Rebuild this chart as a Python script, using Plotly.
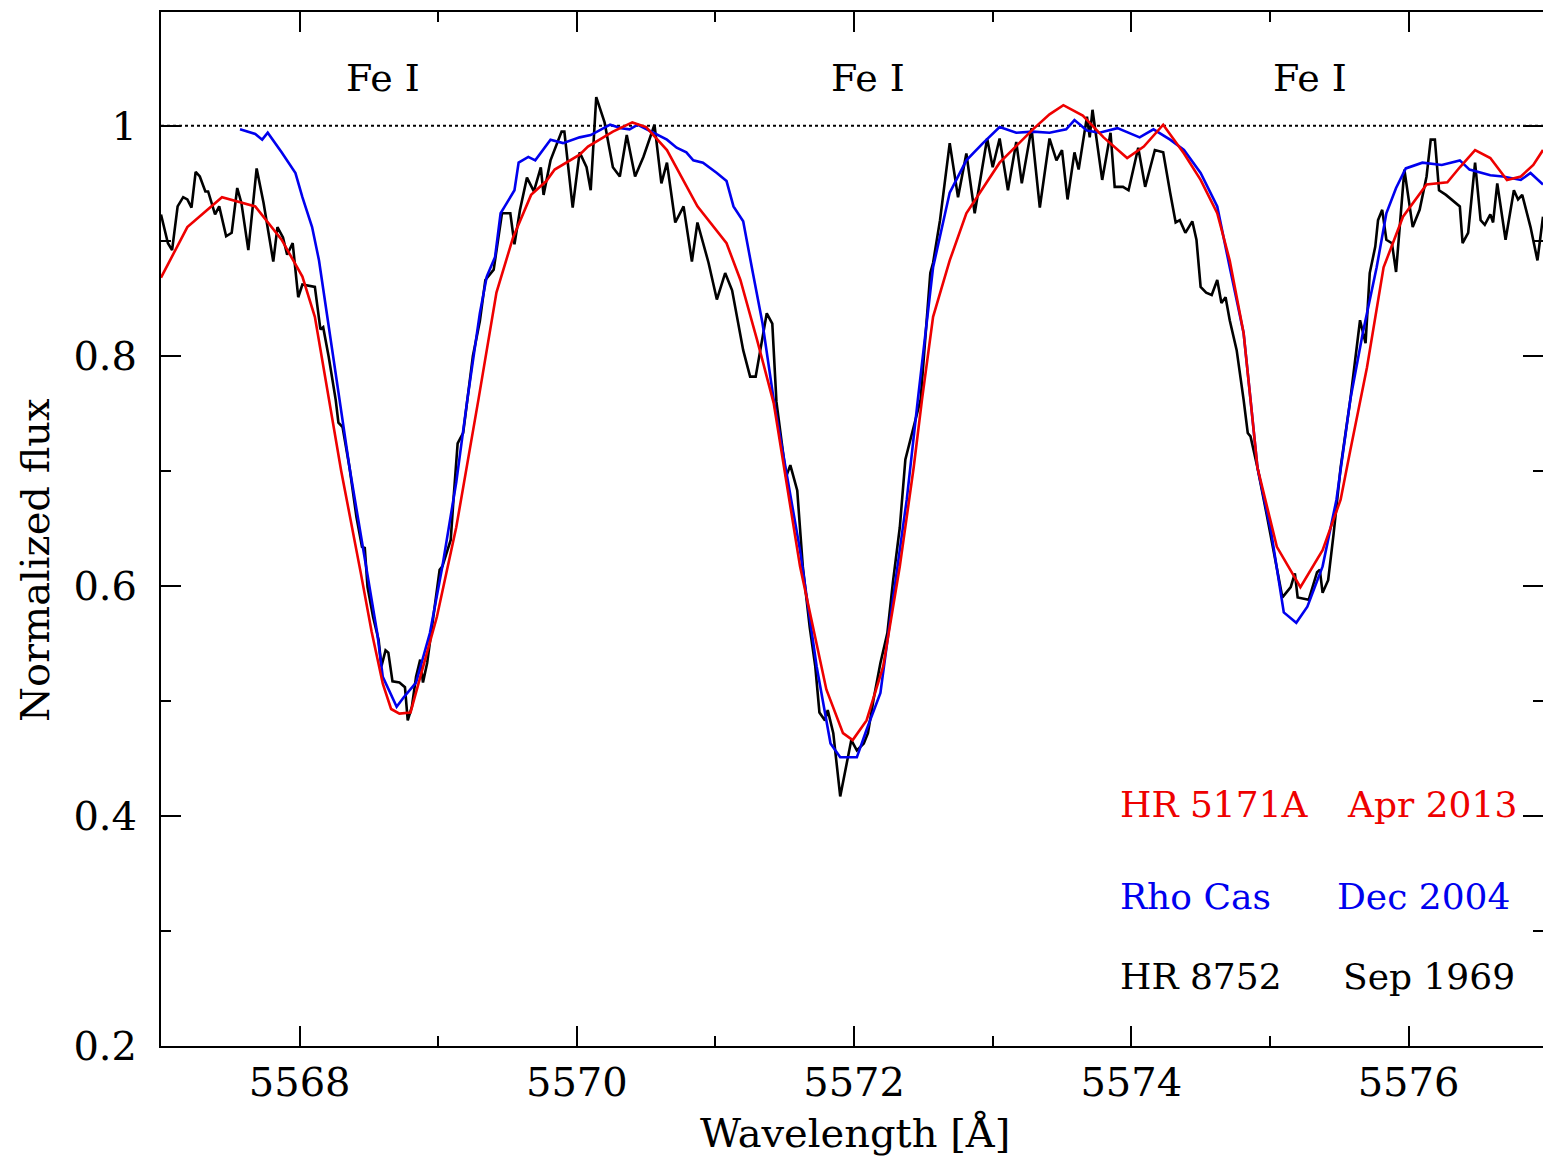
import plotly.graph_objects as go

# ---------------- data ----------------
red_wl = [5567.00, 5567.19, 5567.44, 5567.68, 5567.87, 5568.02, 5568.11, 5568.20, 5568.30, 5568.44,
          5568.52, 5568.60, 5568.66, 5568.72, 5568.80, 5568.99, 5569.13, 5569.29, 5569.42, 5569.54,
          5569.67, 5569.78, 5569.84, 5570.02, 5570.08, 5570.26, 5570.40, 5570.50, 5570.65, 5570.74,
          5570.87, 5571.08, 5571.18, 5571.30, 5571.42, 5571.61, 5571.80, 5571.92, 5571.99, 5572.09,
          5572.21, 5572.33, 5572.43, 5572.49, 5572.57, 5572.69, 5572.81, 5573.05, 5573.29, 5573.41,
          5573.51, 5573.65, 5573.80, 5573.97, 5574.09, 5574.23, 5574.38, 5574.50, 5574.62, 5574.71,
          5574.81, 5574.86, 5574.91, 5575.05, 5575.22, 5575.38, 5575.51, 5575.58, 5575.70, 5575.82,
          5575.96, 5576.13, 5576.28, 5576.37, 5576.48, 5576.59, 5576.71, 5576.81, 5576.90, 5576.97]
red_flux = [0.868, 0.912, 0.938, 0.930, 0.901, 0.869, 0.834, 0.770, 0.700, 0.612,
            0.560, 0.515, 0.493, 0.489, 0.490, 0.573, 0.651, 0.762, 0.855, 0.903,
            0.940, 0.952, 0.962, 0.975, 0.982, 0.995, 1.003, 0.999, 0.979, 0.959,
            0.930, 0.898, 0.866, 0.814, 0.759, 0.617, 0.510, 0.472, 0.466, 0.483,
            0.530, 0.617, 0.703, 0.762, 0.834, 0.883, 0.924, 0.968, 0.997, 1.010,
            1.018, 1.009, 0.990, 0.972, 0.982, 1.001, 0.976, 0.953, 0.924, 0.883,
            0.820, 0.762, 0.703, 0.634, 0.599, 0.631, 0.675, 0.718, 0.790, 0.877,
            0.921, 0.949, 0.951, 0.964, 0.979, 0.972, 0.953, 0.956, 0.966, 0.979]

blue_wl = [5567.57, 5567.68, 5567.73, 5567.77, 5567.87, 5567.92, 5567.97, 5568.02, 5568.09, 5568.14,
           5568.18, 5568.23, 5568.30, 5568.36, 5568.46, 5568.56, 5568.60, 5568.70, 5568.75, 5568.84,
           5568.94, 5569.03, 5569.13, 5569.21, 5569.30, 5569.35, 5569.41, 5569.45, 5569.48, 5569.55,
           5569.58, 5569.65, 5569.70, 5569.81, 5569.90, 5570.02, 5570.10, 5570.24, 5570.32, 5570.38,
           5570.44, 5570.55, 5570.65, 5570.72, 5570.79, 5570.84, 5570.91, 5571.01, 5571.08, 5571.13,
           5571.20, 5571.27, 5571.34, 5571.42, 5571.61, 5571.73, 5571.83, 5571.90, 5572.02, 5572.09,
           5572.19, 5572.28, 5572.38, 5572.46, 5572.57, 5572.69, 5572.81, 5572.93, 5573.05, 5573.17,
           5573.29, 5573.41, 5573.53, 5573.59, 5573.68, 5573.77, 5573.90, 5574.06, 5574.16, 5574.28,
           5574.38, 5574.50, 5574.62, 5574.71, 5574.81, 5574.86, 5574.91, 5575.01, 5575.10, 5575.19,
           5575.27, 5575.38, 5575.48, 5575.58, 5575.67, 5575.77, 5575.84, 5575.91, 5575.98, 5576.10,
           5576.24, 5576.37, 5576.44, 5576.59, 5576.68, 5576.81, 5576.88, 5576.97]
blue_flux = [0.997, 0.993, 0.988, 0.994, 0.977, 0.968, 0.959, 0.938, 0.912, 0.883,
             0.851, 0.811, 0.753, 0.703, 0.631, 0.559, 0.521, 0.495, 0.503, 0.516,
             0.559, 0.617, 0.690, 0.762, 0.837, 0.869, 0.886, 0.924, 0.930, 0.944,
             0.968, 0.973, 0.970, 0.988, 0.985, 0.990, 0.992, 1.001, 0.998, 0.997,
             1.001, 0.994, 0.988, 0.981, 0.977, 0.970, 0.968, 0.959, 0.952, 0.930,
             0.917, 0.872, 0.828, 0.762, 0.631, 0.530, 0.463, 0.451, 0.451, 0.475,
             0.507, 0.588, 0.675, 0.762, 0.877, 0.942, 0.970, 0.985, 0.999, 0.994,
             0.995, 0.994, 0.997, 1.005, 0.996, 0.994, 0.998, 0.990, 0.997, 0.988,
             0.979, 0.959, 0.930, 0.877, 0.820, 0.762, 0.703, 0.646, 0.577, 0.568,
             0.582, 0.617, 0.675, 0.762, 0.820, 0.877, 0.924, 0.946, 0.963, 0.968,
             0.966, 0.970, 0.962, 0.957, 0.956, 0.953, 0.959, 0.949]

black_wl = [5567.00, 5567.05, 5567.08, 5567.12, 5567.16, 5567.19, 5567.22, 5567.25, 5567.28, 5567.32,
            5567.34, 5567.39, 5567.42, 5567.47, 5567.51, 5567.55, 5567.58, 5567.63, 5567.69, 5567.74,
            5567.81, 5567.84, 5567.88, 5567.91, 5567.95, 5567.99, 5568.02, 5568.11, 5568.15, 5568.17,
            5568.21, 5568.26, 5568.28, 5568.31, 5568.36, 5568.41, 5568.45, 5568.47, 5568.49, 5568.53,
            5568.57, 5568.59, 5568.62, 5568.64, 5568.67, 5568.72, 5568.76, 5568.78, 5568.81, 5568.84,
            5568.87, 5568.89, 5568.92, 5568.96, 5569.01, 5569.03, 5569.09, 5569.11, 5569.14, 5569.18,
            5569.21, 5569.25, 5569.30, 5569.34, 5569.40, 5569.46, 5569.52, 5569.55, 5569.59, 5569.64,
            5569.69, 5569.74, 5569.76, 5569.81, 5569.89, 5569.91, 5569.97, 5570.02, 5570.07, 5570.10,
            5570.14, 5570.20, 5570.26, 5570.31, 5570.36, 5570.42, 5570.48, 5570.56, 5570.61, 5570.65,
            5570.71, 5570.77, 5570.83, 5570.87, 5570.95, 5571.01, 5571.07, 5571.12, 5571.20, 5571.25,
            5571.29, 5571.37, 5571.41, 5571.44, 5571.51, 5571.54, 5571.59, 5571.63, 5571.68, 5571.72,
            5571.75, 5571.79, 5571.81, 5571.85, 5571.90, 5571.95, 5571.98, 5572.02, 5572.07, 5572.10,
            5572.14, 5572.19, 5572.24, 5572.28, 5572.33, 5572.37, 5572.40, 5572.48, 5572.52, 5572.55,
            5572.57, 5572.62, 5572.69, 5572.75, 5572.81, 5572.87, 5572.96, 5573.00, 5573.05, 5573.11,
            5573.17, 5573.21, 5573.28, 5573.34, 5573.41, 5573.46, 5573.50, 5573.54, 5573.59, 5573.62,
            5573.68, 5573.70, 5573.72, 5573.79, 5573.85, 5573.88, 5573.94, 5573.98, 5574.05, 5574.10,
            5574.17, 5574.23, 5574.28, 5574.32, 5574.35, 5574.39, 5574.44, 5574.47, 5574.50, 5574.54,
            5574.58, 5574.62, 5574.65, 5574.68, 5574.71, 5574.76, 5574.81, 5574.84, 5574.86, 5574.91,
            5574.98, 5575.03, 5575.09, 5575.15, 5575.18, 5575.20, 5575.28, 5575.34, 5575.36, 5575.38,
            5575.42, 5575.46, 5575.51, 5575.58, 5575.65, 5575.69, 5575.72, 5575.76, 5575.78, 5575.81,
            5575.84, 5575.88, 5575.91, 5575.97, 5576.03, 5576.08, 5576.13, 5576.16, 5576.19, 5576.22,
            5576.27, 5576.37, 5576.39, 5576.43, 5576.48, 5576.52, 5576.55, 5576.59, 5576.61, 5576.64,
            5576.70, 5576.76, 5576.79, 5576.82, 5576.88, 5576.93, 5576.97]
black_flux = [0.923, 0.898, 0.892, 0.930, 0.938, 0.936, 0.929, 0.960, 0.956, 0.943,
              0.943, 0.923, 0.930, 0.904, 0.907, 0.946, 0.933, 0.892, 0.963, 0.933,
              0.882, 0.912, 0.903, 0.888, 0.898, 0.851, 0.862, 0.860, 0.823, 0.825,
              0.799, 0.762, 0.742, 0.738, 0.703, 0.660, 0.634, 0.633, 0.599, 0.573,
              0.553, 0.530, 0.544, 0.542, 0.517, 0.516, 0.512, 0.483, 0.495, 0.521,
              0.536, 0.516, 0.533, 0.570, 0.614, 0.617, 0.640, 0.675, 0.724, 0.733,
              0.762, 0.800, 0.830, 0.866, 0.875, 0.924, 0.924, 0.897, 0.927, 0.955,
              0.943, 0.964, 0.940, 0.970, 0.995, 0.995, 0.929, 0.977, 0.964, 0.944,
              1.025, 1.003, 0.964, 0.956, 0.992, 0.956, 0.973, 1.001, 0.950, 0.968,
              0.916, 0.930, 0.882, 0.916, 0.881, 0.849, 0.872, 0.857, 0.805, 0.782,
              0.782, 0.837, 0.828, 0.760, 0.695, 0.705, 0.683, 0.617, 0.564, 0.530,
              0.490, 0.483, 0.492, 0.472, 0.417, 0.449, 0.466, 0.457, 0.463, 0.472,
              0.501, 0.533, 0.559, 0.603, 0.651, 0.710, 0.724, 0.762, 0.825, 0.872,
              0.881, 0.918, 0.985, 0.938, 0.976, 0.924, 0.989, 0.964, 0.989, 0.944,
              0.986, 0.950, 0.998, 0.929, 0.989, 0.970, 0.979, 0.936, 0.977, 0.962,
              1.008, 0.990, 1.014, 0.953, 0.994, 0.947, 0.947, 0.944, 0.981, 0.947,
              0.979, 0.977, 0.942, 0.916, 0.918, 0.907, 0.917, 0.901, 0.860, 0.855,
              0.853, 0.866, 0.846, 0.851, 0.831, 0.805, 0.762, 0.733, 0.730, 0.703,
              0.660, 0.629, 0.590, 0.599, 0.611, 0.590, 0.588, 0.612, 0.614, 0.594,
              0.605, 0.646, 0.703, 0.762, 0.831, 0.811, 0.872, 0.895, 0.918, 0.927,
              0.901, 0.898, 0.873, 0.962, 0.912, 0.927, 0.956, 0.988, 0.988, 0.944,
              0.940, 0.930, 0.898, 0.907, 0.968, 0.918, 0.914, 0.923, 0.916, 0.950,
              0.901, 0.944, 0.936, 0.940, 0.912, 0.883, 0.921]

x_ticks = [5568, 5570, 5572, 5574, 5576]
y_ticks = [0.2, 0.4, 0.6, 0.8, 1.0]
y_tick_labels = ["0.2", "0.4", "0.6", "0.8", "1"]

line_labels = ["Fe I", "Fe I", "Fe I"]
line_label_wl = [5568.60, 5572.10, 5575.29]

legend_rows = [("HR 5171A", "Apr 2013", "#ee0000"),
               ("Rho Cas", "Dec 2004", "#0000ee"),
               ("HR 8752", "Sep 1969", "#000000")]

# ---------------- figure ----------------
FONT = "DejaVu Serif"
X_RANGE = [5567.0, 5576.97]
Y_RANGE = [0.2, 1.099]

fig = go.Figure()
fig.add_trace(go.Scatter(x=black_wl, y=black_flux, mode="lines",
                         line=dict(color="#000000", width=2.6), name="HR 8752"))
fig.add_trace(go.Scatter(x=blue_wl, y=blue_flux, mode="lines",
                         line=dict(color="#0000ee", width=2.6), name="Rho Cas"))
fig.add_trace(go.Scatter(x=red_wl, y=red_flux, mode="lines",
                         line=dict(color="#ee0000", width=2.6), name="HR 5171A"))
# dummy trace on right axis to display mirrored ticks without a line
fig.add_trace(go.Scatter(x=[None], y=[None], yaxis="y2", showlegend=False))

# continuum level
fig.add_shape(type="line", xref="paper", yref="y", x0=0, x1=1, y0=1, y1=1,
              line=dict(color="black", width=2, dash="dot"), layer="below")

for lab, wl in zip(line_labels, line_label_wl):
    fig.add_annotation(x=wl, y=1.042, xref="x", yref="y", text=lab, showarrow=False,
                       font=dict(family=FONT, size=38, color="black"),
                       xanchor="center", yanchor="middle")

row_y = [0.4096, 0.3296, 0.260]
col2_x = [5575.542, 5575.47, 5575.51]
for (name, date, col), yy, x2 in zip(legend_rows, row_y, col2_x):
    fig.add_annotation(x=5573.905, y=yy, xref="x", yref="y", text=name, showarrow=False,
                       font=dict(family=FONT, size=36, color=col), xanchor="left", yanchor="middle")
    fig.add_annotation(x=x2, y=yy, xref="x", yref="y", text=date, showarrow=False,
                       font=dict(family=FONT, size=36, color=col), xanchor="left", yanchor="middle")

# axis titles
fig.add_annotation(x=0.502, y=-0.084, xref="paper", yref="paper", text="Wavelength [Å]",
                   showarrow=False, font=dict(family=FONT, size=40, color="black"),
                   xanchor="center", yanchor="middle")
fig.add_annotation(x=-0.0912, y=0.47, xref="paper", yref="paper", text="Normalized flux",
                   showarrow=False, textangle=-90, font=dict(family=FONT, size=40, color="black"),
                   xanchor="center", yanchor="middle")

fig.update_layout(
    width=1543, height=1158,
    margin=dict(l=161, r=0, t=12, b=112),
    paper_bgcolor="white", plot_bgcolor="white",
    showlegend=False,
    xaxis=dict(range=X_RANGE, tickvals=x_ticks, ticktext=[str(v) for v in x_ticks],
               ticks="inside", ticklen=20, tickwidth=2, tickcolor="black",
               showline=True, linecolor="black", linewidth=2, mirror="ticks",
               showgrid=False, zeroline=False,
               tickfont=dict(family=FONT, size=40, color="black"),
               minor=dict(dtick=1, tick0=5567, ticks="inside", ticklen=10, tickwidth=2,
                          tickcolor="black", showgrid=False)),
    yaxis=dict(range=Y_RANGE, tickvals=y_ticks, ticktext=y_tick_labels,
               ticks="inside", ticklen=20, tickwidth=2, tickcolor="black",
               showline=True, linecolor="black", linewidth=2, mirror=False,
               showgrid=False, zeroline=False, ticklabelstandoff=14,
               tickfont=dict(family=FONT, size=40, color="black"),
               minor=dict(dtick=0.1, tick0=0.2, ticks="inside", ticklen=10, tickwidth=2,
                          tickcolor="black", showgrid=False)),
    yaxis2=dict(range=Y_RANGE, overlaying="y", side="right", tickvals=y_ticks,
                showticklabels=False, ticks="inside", ticklen=20, tickwidth=2,
                tickcolor="black", showline=False, showgrid=False, zeroline=False,
                minor=dict(dtick=0.1, tick0=0.2, ticks="inside", ticklen=10, tickwidth=2,
                           tickcolor="black", showgrid=False)),
)

fig.write_html("out.html")
